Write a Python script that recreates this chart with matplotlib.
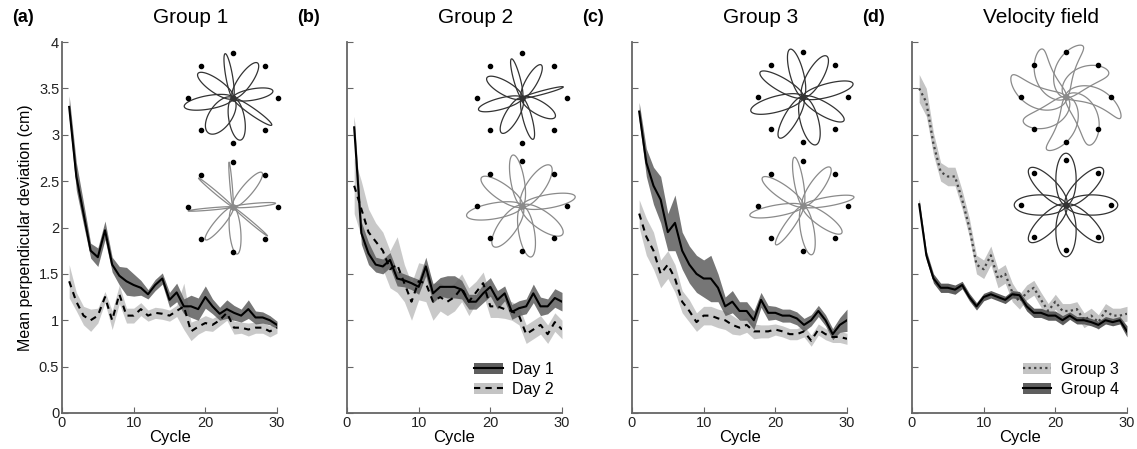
import numpy as np
import matplotlib
matplotlib.use("Agg")
import matplotlib.pyplot as plt
from matplotlib.patches import Patch
from matplotlib.lines import Line2D

plt.rcParams['font.family'] = ['Liberation Sans', 'DejaVu Sans']

cycles = np.arange(1, 31)

# panel (a) Group 1
a_day1 = [3.3, 2.55, 2.15, 1.75, 1.68, 1.97, 1.6, 1.48, 1.42, 1.38, 1.35, 1.28, 1.38, 1.45, 1.22,
          1.3, 1.15, 1.15, 1.12, 1.25, 1.15, 1.07, 1.12, 1.08, 1.05, 1.12, 1.03, 1.03, 1.0, 0.95]
a_day1_sem = [0.12, 0.15, 0.12, 0.08, 0.1, 0.1, 0.08, 0.1, 0.15, 0.12, 0.08, 0.05, 0.06, 0.06, 0.08,
              0.1, 0.08, 0.12, 0.12, 0.12, 0.08, 0.07, 0.1, 0.08, 0.07, 0.1, 0.07, 0.06, 0.05, 0.04]
a_day2 = [1.42, 1.2, 1.05, 1.0, 1.05, 1.25, 1.0, 1.28, 1.05, 1.05, 1.12, 1.05, 1.08, 1.07, 1.05,
          1.1, 1.15, 0.88, 0.93, 0.97, 0.95, 1.0, 1.08, 0.92, 0.92, 0.9, 0.92, 0.92, 0.88, 0.92]
a_day2_sem = [0.18, 0.1, 0.1, 0.12, 0.08, 0.06, 0.1, 0.1, 0.08, 0.08, 0.07, 0.06, 0.06, 0.06, 0.06,
              0.06, 0.25, 0.1, 0.08, 0.08, 0.07, 0.06, 0.08, 0.07, 0.06, 0.07, 0.06, 0.06, 0.06, 0.06]

# panel (b) Group 2
b_day1 = [3.08, 1.94, 1.72, 1.6, 1.58, 1.65, 1.45, 1.43, 1.4, 1.36, 1.58, 1.29, 1.36, 1.36, 1.36,
          1.33, 1.2, 1.2, 1.29, 1.36, 1.22, 1.29, 1.09, 1.13, 1.15, 1.29, 1.15, 1.15, 1.24, 1.2]
b_day1_sem = [0.12, 0.12, 0.12, 0.08, 0.08, 0.08, 0.08, 0.07, 0.07, 0.08, 0.1, 0.1, 0.1, 0.12, 0.12,
              0.1, 0.08, 0.08, 0.1, 0.1, 0.1, 0.08, 0.08, 0.08, 0.08, 0.1, 0.1, 0.08, 0.1, 0.1]
b_day2 = [2.45, 2.2, 1.95, 1.85, 1.75, 1.55, 1.6, 1.4, 1.2, 1.42, 1.4, 1.2, 1.25, 1.2, 1.25,
          1.35, 1.2, 1.3, 1.4, 1.15, 1.15, 1.12, 1.1, 1.05, 0.85, 0.9, 0.95, 0.85, 0.98, 0.9]
b_day2_sem = [0.3, 0.3, 0.25, 0.2, 0.2, 0.2, 0.3, 0.2, 0.2, 0.2, 0.2, 0.2, 0.15, 0.15, 0.15,
              0.15, 0.15, 0.12, 0.12, 0.12, 0.12, 0.1, 0.1, 0.1, 0.1, 0.1, 0.1, 0.1, 0.1, 0.1]

# panel (c) Group 3
c_day1 = [3.25, 2.7, 2.45, 2.3, 1.95, 2.05, 1.75, 1.6, 1.5, 1.45, 1.45, 1.35, 1.15, 1.2, 1.1,
          1.1, 1.0, 1.22, 1.08, 1.08, 1.05, 1.05, 1.02, 0.95, 1.0, 1.1, 1.0, 0.85, 0.95, 1.0]
c_day1_sem = [0.1, 0.15, 0.2, 0.25, 0.2, 0.3, 0.2, 0.2, 0.2, 0.2, 0.25, 0.15, 0.1, 0.12, 0.1,
              0.1, 0.1, 0.08, 0.08, 0.07, 0.07, 0.07, 0.07, 0.07, 0.06, 0.06, 0.06, 0.06, 0.08, 0.12]
c_day2 = [2.15, 1.9, 1.75, 1.5, 1.6, 1.45, 1.2, 1.1, 0.98, 1.05, 1.05, 1.02, 1.0, 0.95, 0.92,
          0.95, 0.88, 0.88, 0.88, 0.9, 0.88, 0.85, 0.85, 0.88, 0.78, 0.9, 0.85, 0.82, 0.82, 0.8]
c_day2_sem = [0.15, 0.2, 0.2, 0.15, 0.15, 0.15, 0.12, 0.12, 0.1, 0.1, 0.1, 0.1, 0.1, 0.1, 0.08,
              0.08, 0.08, 0.07, 0.07, 0.06, 0.06, 0.06, 0.06, 0.06, 0.06, 0.06, 0.06, 0.06, 0.06, 0.06]

# panel (d) Velocity field
d_g3 = [3.5, 3.35, 2.9, 2.6, 2.55, 2.55, 2.3, 2.0, 1.6, 1.55, 1.7, 1.45, 1.5, 1.3, 1.2,
        1.3, 1.35, 1.22, 1.1, 1.2, 1.1, 1.1, 1.12, 1.0, 1.05, 0.98, 1.1, 1.05, 1.05, 1.07]
d_g3_sem = [0.15, 0.15, 0.12, 0.1, 0.1, 0.1, 0.1, 0.1, 0.1, 0.1, 0.1, 0.1, 0.1, 0.1, 0.08,
            0.08, 0.08, 0.08, 0.08, 0.08, 0.08, 0.08, 0.08, 0.08, 0.08, 0.08, 0.08, 0.08, 0.08, 0.08]
d_g4 = [2.25, 1.7, 1.45, 1.35, 1.35, 1.33, 1.38, 1.25, 1.15, 1.25, 1.28, 1.25, 1.22, 1.28, 1.27,
        1.15, 1.08, 1.08, 1.05, 1.05, 1.0, 1.05, 1.0, 1.0, 0.98, 0.95, 1.0, 0.98, 1.0, 0.88]
d_g4_sem = [0.06, 0.05, 0.05, 0.05, 0.05, 0.05, 0.04, 0.04, 0.04, 0.04, 0.04, 0.04, 0.04, 0.04, 0.04,
            0.05, 0.05, 0.05, 0.05, 0.05, 0.05, 0.04, 0.04, 0.04, 0.04, 0.04, 0.04, 0.04, 0.04, 0.06]

panel_letters = ["(a)", "(b)", "(c)", "(d)"]
panel_titles = ["Group 1", "Group 2", "Group 3", "Velocity field"]

# inset trajectory petals: lengths, widths (per target), tilt deg, curl deg
insets = {
    "a_top": ([1.0, 0.95, 0.9, 1.05, 0.95, 0.95, 1.1, 0.95], [0.15, 0.3, 0.25, 0.15, 0.35, 0.5, 0.3, 0.3], 10, 0),
    "a_bot": ([1.0, 1.0, 0.95, 1.0, 1.05, 0.95, 1.0, 1.0], [0.05, 0.25, 0.08, 0.05, 0.25, 0.2, 0.05, 0.06], 5, 0),
    "b_top": ([0.9, 0.85, 0.95, 0.85, 0.95, 0.9, 1.0, 0.9], [0.15, 0.25, 0.08, 0.3, 0.2, 0.3, 0.25, 0.3], 15, 0),
    "b_bot": ([1.15, 1.1, 1.2, 1.1, 1.15, 1.1, 1.25, 1.1], [0.3, 0.4, 0.3, 0.4, 0.35, 0.4, 0.35, 0.35], 10, 0),
    "c_top": ([1.1, 1.05, 1.15, 1.05, 1.1, 1.05, 1.2, 1.1], [0.3, 0.35, 0.3, 0.3, 0.4, 0.3, 0.35, 0.3], 15, 0),
    "c_bot": ([1.1, 1.05, 1.15, 1.05, 1.1, 1.05, 1.2, 1.1], [0.2, 0.3, 0.2, 0.3, 0.3, 0.2, 0.25, 0.3], 10, 0),
    "d_top": ([1.2, 1.1, 1.3, 1.2, 1.25, 1.1, 1.3, 1.2], [0.45, 0.5, 0.4, 0.55, 0.45, 0.5, 0.5, 0.45], 25, -35),
    "d_bot": ([1.15, 1.15, 1.15, 1.15, 1.15, 1.15, 1.15, 1.15], [0.45, 0.4, 0.45, 0.4, 0.45, 0.4, 0.45, 0.4], 0, 0),
}
target_angles = [90, 45, 0, -45, -90, -135, 180, 135]

W, H = 1137, 449
fig = plt.figure(figsize=(W / 100, H / 100), dpi=100)

dark_band = "#5e5e5e"
light_band = "#c4c4c4"
spine_col = "#666666"

lefts = [62, 347, 632, 912]
panels = [
    ((a_day1, a_day1_sem), (a_day2, a_day2_sem)),
    ((b_day1, b_day1_sem), (b_day2, b_day2_sem)),
    ((c_day1, c_day1_sem), (c_day2, c_day2_sem)),
]

axes = []
for i, left in enumerate(lefts):
    ax = fig.add_axes([left / W, 36 / H, 215 / W, 371 / H])
    axes.append(ax)
    if i < 3:
        (m1, s1), (m2, s2) = panels[i]
        m1, s1, m2, s2 = map(np.array, (m1, s1, m2, s2))
        ax.fill_between(cycles, m2 - s2, m2 + s2, color=light_band, lw=0, alpha=0.9)
        ax.fill_between(cycles, m1 - s1, m1 + s1, color=dark_band, lw=0, alpha=0.85)
        ax.plot(cycles, m2, color="black", lw=1.5, ls=(0, (3, 2.5)))
        ax.plot(cycles, m1, color="black", lw=1.5)
    else:
        g3, s3, g4, s4 = map(np.array, (d_g3, d_g3_sem, d_g4, d_g4_sem))
        ax.fill_between(cycles, g3 - s3, g3 + s3, color=light_band, lw=0)
        ax.plot(cycles, g3, color="#444444", lw=1.6, ls=(0, (1, 1.5)))
        ax.fill_between(cycles, g4 - s4, g4 + s4, color=dark_band, lw=0)
        ax.plot(cycles, g4, color="black", lw=1.5)

    ax.set_xlim(0, 30)
    ax.set_ylim(0, 4)
    ax.set_xticks([0, 10, 20, 30])
    ax.set_yticks(np.arange(0, 4.01, 0.5))
    ax.set_yticklabels(["0", "0.5", "1", "1.5", "2", "2.5", "3", "3.5", "4"])
    if i > 0:
        ax.set_yticklabels([])
    for sp in ["top", "right"]:
        ax.spines[sp].set_visible(False)
    for sp in ["left", "bottom"]:
        ax.spines[sp].set_color(spine_col)
        ax.spines[sp].set_linewidth(1.3)
    ax.tick_params(direction="in", length=4, color=spine_col, labelsize=10.5,
                   labelcolor="#222222", pad=2)
    ax.set_xlabel("Cycle", fontsize=12, labelpad=0)
    ax.text(-0.23, 1.065, panel_letters[i], transform=ax.transAxes, fontsize=13,
            fontweight="bold", ha="left", va="center")
    ax.text(0.6, 1.065, panel_titles[i], transform=ax.transAxes, fontsize=15,
            ha="center", va="center")

axes[0].set_ylabel("Mean perpendicular deviation (cm)", fontsize=11.5, labelpad=4)

# legends
leg_kw = dict(loc="lower right", bbox_to_anchor=(1.0, 0.022), frameon=False, fontsize=11.5,
              handlelength=1.8, handletextpad=0.6, labelspacing=0.3, borderaxespad=0.1)
h_day1 = (Patch(facecolor=dark_band, lw=0), Line2D([], [], color="black", lw=1.5))
h_day2 = (Patch(facecolor=light_band, lw=0), Line2D([], [], color="black", lw=1.5, ls=(0, (3, 2.5))))
axes[1].legend([h_day1, h_day2], ["Day 1", "Day 2"], **leg_kw)
h_g3 = (Patch(facecolor=light_band, lw=0), Line2D([], [], color="#444444", lw=1.6, ls=(0, (1, 1.5))))
h_g4 = (Patch(facecolor=dark_band, lw=0), Line2D([], [], color="black", lw=1.5))
axes[3].legend([h_g3, h_g4], ["Group 3", "Group 4"], **leg_kw)

# trajectory insets
inset_centers = {
    "a_top": (233, 98), "a_bot": (233, 207),
    "b_top": (522, 98), "b_bot": (522, 206),
    "c_top": (803, 97), "c_bot": (803, 206),
    "d_top": (1066, 97), "d_bot": (1066, 205),
}
inset_colors = {
    "a_top": "#333333", "a_bot": "#8a8a8a",
    "b_top": "#333333", "b_bot": "#8a8a8a",
    "c_top": "#333333", "c_bot": "#8a8a8a",
    "d_top": "#8a8a8a", "d_bot": "#333333",
}
R = 45.0
half = 62
theta = np.linspace(0, 2 * np.pi, 120)
for key, (lengths, widths, tilt, curl) in insets.items():
    cx, cy = inset_centers[key]
    iax = fig.add_axes([(cx - half) / W, 1 - (cy + half) / H, 2 * half / W, 2 * half / H])
    iax.set_xlim(-half / R, half / R)
    iax.set_ylim(-half / R, half / R)
    iax.axis("off")
    ta = np.deg2rad(target_angles)
    iax.scatter(np.cos(ta), np.sin(ta), s=9, color="black", zorder=3, clip_on=False)
    for ang, L, w in zip(target_angles, lengths, widths):
        lx = L / 2 * (1 - np.cos(theta))
        ly = w / 2 * np.sin(theta)
        r = np.hypot(lx, ly)
        phi = np.arctan2(ly, lx) + np.deg2rad(ang + tilt) + np.deg2rad(curl) * r
        iax.plot(r * np.cos(phi), r * np.sin(phi), color=inset_colors[key], lw=0.9, clip_on=False)
    iax.scatter([0], [0], s=14, color=inset_colors[key], zorder=3)

fig.savefig("out.png", dpi=100)
